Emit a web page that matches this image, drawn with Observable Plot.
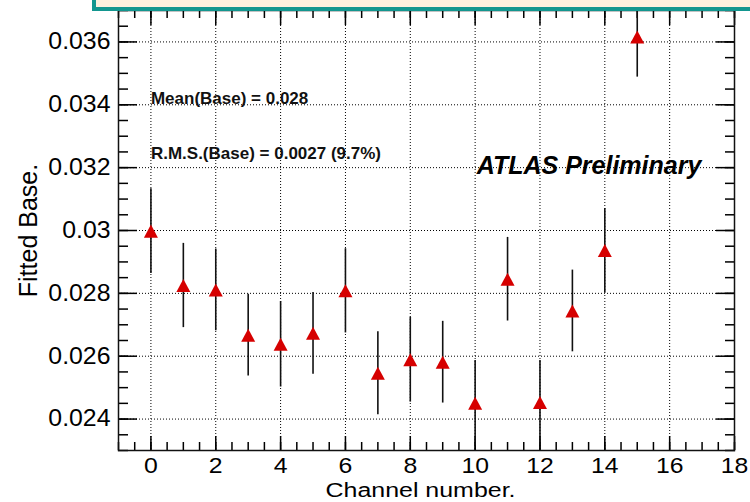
<!DOCTYPE html>
<html>
<head>
<meta charset="utf-8">
<script src="https://cdn.jsdelivr.net/npm/d3@7"></script>
<script src="https://cdn.jsdelivr.net/npm/@observablehq/plot@0.6"></script>
<style>
  html, body { margin: 0; padding: 0; background: #fff; }
  #wrap { position: relative; width: 750px; height: 502px; overflow: hidden; }
  #banner { position: absolute; left: 92px; top: -20px; width: 720px; height: 31px; box-sizing: border-box;
            border: 4px solid #13968f; background: #fdf0de; }
</style>
</head>
<body>
<div id="wrap"><div id="chart"></div><div id="banner"></div></div>
<script>
// ---- data ----
const channels = [0, 1, 2, 3, 4, 5, 6, 7, 8, 9, 10, 11, 12, 13, 14, 15];
const fittedBase = [0.02998, 0.02825, 0.02811, 0.02667, 0.02638, 0.02673, 0.02808, 0.02546,
                    0.02589, 0.02581, 0.02450, 0.02845, 0.02453, 0.02744, 0.02936, 0.03616];
const fittedBaseErr = [0.00135, 0.00134, 0.00130, 0.00130, 0.00136, 0.00130, 0.00134, 0.00132,
                       0.00135, 0.00130, 0.00136, 0.00133, 0.00133, 0.00130, 0.00134, 0.00128];

const xMajorTicks = [0, 2, 4, 6, 8, 10, 12, 14, 16, 18];
const xMinorTicks = d3.range(-1, 18.001, 0.5);
const yMajorTicks = [0.024, 0.026, 0.028, 0.03, 0.032, 0.034, 0.036];
const yMinorTicks = d3.range(0.023, 0.03701, 0.0005);

const statText = ["Mean(Base) = 0.028", "R.M.S.(Base) = 0.0027 (9.7%)"];
const statX = [0, 0];
const statY = [0.03403, 0.03226];
const atlasText = ["ATLAS Preliminary"];
const atlasX = [10.05];
const atlasY = [0.03181];
const xTitle = ["Channel number."];
const yTitle = ["Fitted Base."];

const rows = channels.map((c, i) => ({ch: c, v: fittedBase[i], lo: fittedBase[i] - fittedBaseErr[i], hi: fittedBase[i] + fittedBaseErr[i]}));

// ROOT-style up triangle centred on its bounding box
const rootTriangle = {
  draw(ctx, size) {
    const a = Math.sqrt(size / Math.PI);
    const h = a * 0.93;
    ctx.moveTo(0, -h);
    ctx.lineTo(a, h);
    ctx.lineTo(-a, h);
    ctx.closePath();
  }
};

const font = "'Liberation Sans', Arial, Helvetica, sans-serif";

const chart = Plot.plot({
  width: 750,
  height: 502,
  marginLeft: 118,
  marginRight: 16,
  marginTop: 10,
  marginBottom: 52,
  style: {fontFamily: font, background: "transparent"},
  x: {domain: [-1, 18]},
  y: {domain: [0.023, 0.037]},
  marks: [
    Plot.gridX(xMajorTicks.filter(d => d < 18), {stroke: "#000", strokeOpacity: 1, strokeWidth: 1, strokeDasharray: "1,2"}),
    Plot.gridY(yMajorTicks, {stroke: "#000", strokeOpacity: 1, strokeWidth: 1, strokeDasharray: "1,2"}),
    // bottom axis
    Plot.axisX(xMajorTicks, {anchor: "bottom", tickSize: -14, tickPadding: 21, fontSize: 22.5, strokeWidth: 1.5, label: null, tickFormat: d => String(d)}),
    Plot.axisX(xMinorTicks, {anchor: "bottom", tickSize: -8, strokeWidth: 1.5, label: null, tickFormat: () => ""}),
    // top axis
    Plot.axisX(xMajorTicks, {anchor: "top", tickSize: -14, strokeWidth: 1.5, label: null, tickFormat: () => ""}),
    Plot.axisX(xMinorTicks, {anchor: "top", tickSize: -7, strokeWidth: 1.5, label: null, tickFormat: () => ""}),
    // left axis
    Plot.axisY(yMajorTicks, {anchor: "left", tickSize: -19, tickPadding: 27, fontSize: 23, strokeWidth: 1.5, label: null, tickFormat: d => String(d)}),
    Plot.axisY(yMinorTicks, {anchor: "left", tickSize: -10, strokeWidth: 1.5, label: null, tickFormat: () => ""}),
    // right axis
    Plot.axisY(yMajorTicks, {anchor: "right", tickSize: -19, strokeWidth: 1.5, label: null, tickFormat: () => ""}),
    Plot.axisY(yMinorTicks, {anchor: "right", tickSize: -10, strokeWidth: 1.5, label: null, tickFormat: () => ""}),
    Plot.frame({stroke: "#111", strokeWidth: 1.5}),
    // error bars
    Plot.ruleX(rows, {x: "ch", y1: "lo", y2: "hi", stroke: "#111", strokeWidth: 1.6, clip: true}),
    // markers
    Plot.dot(rows, {x: "ch", y: "v", symbol: rootTriangle, r: 7, fill: "#d60000", stroke: "none"}),
    // annotations
    Plot.text(statText, {x: statX, y: statY, text: d => d, textAnchor: "start", lineAnchor: "bottom", fontSize: 17, fontWeight: "bold", fill: "#111"}),
    Plot.text(atlasText, {x: atlasX, y: atlasY, text: d => d, textAnchor: "start", lineAnchor: "bottom", fontSize: 25, fontWeight: "bold", fontStyle: "italic", fill: "#000"}),
    // axis titles
    Plot.text(xTitle, {frameAnchor: "bottom", text: d => d, textAnchor: "middle", dx: -6, dy: 46, lineAnchor: "bottom", fontSize: 20, fill: "#000", className: "xtitle"}),
    Plot.text(yTitle, {frameAnchor: "left", text: d => d, textAnchor: "middle", rotate: -90, dx: -82, lineAnchor: "bottom", fontSize: 25, fill: "#000"})
  ]
});
document.getElementById("chart").appendChild(chart);

// ROOT's rendering of Helvetica here is slightly wider than Liberation Sans: stretch horizontally
function stretch(selector, k) {
  chart.querySelectorAll(selector).forEach(t => {
    const L = t.getComputedTextLength();
    if (L > 0) {
      t.setAttribute("textLength", (L * k).toFixed(1));
      t.setAttribute("lengthAdjust", "spacingAndGlyphs");
    }
  });
}
stretch('g[aria-label="x-axis tick label"] text', 1.1);
stretch('g[aria-label="y-axis tick label"] text', 1.08);
chart.querySelectorAll('.xtitle text').forEach(t => {
  t.setAttribute("textLength", "190");
  t.setAttribute("lengthAdjust", "spacingAndGlyphs");
});
</script>
</body>
</html>
